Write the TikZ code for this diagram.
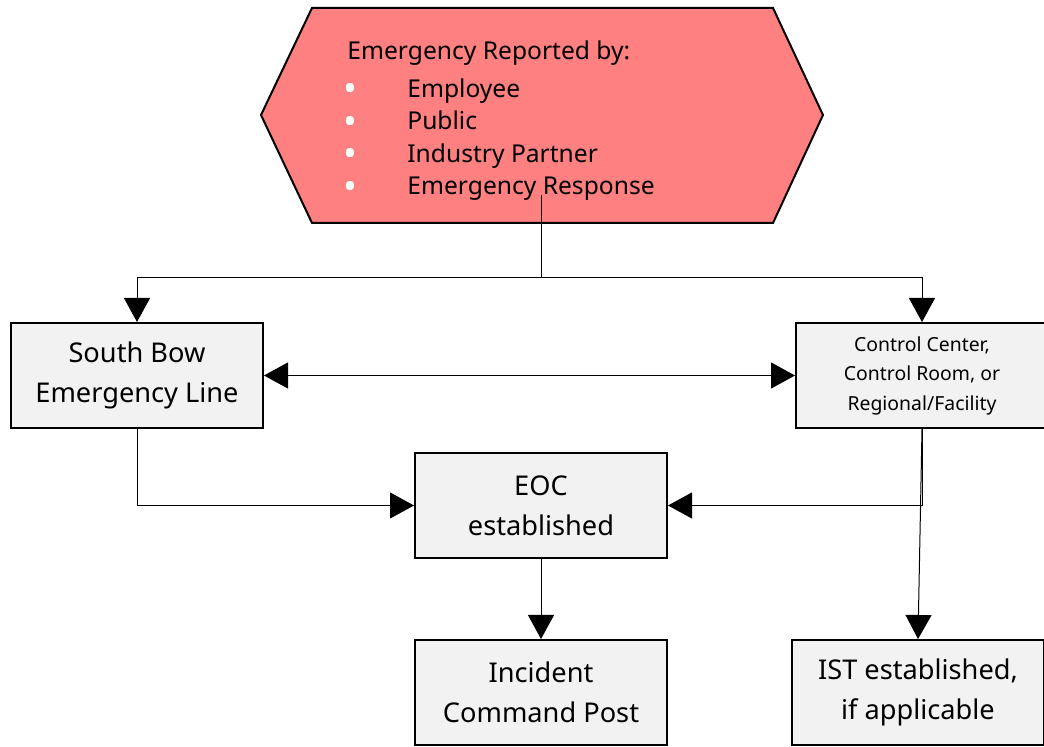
\documentclass[tikz,border=0pt]{standalone}
\usepackage{fontspec}
\setmainfont{Noto Sans}
\usetikzlibrary{arrows.meta}
\definecolor{reportred}{RGB}{255,128,128}
\definecolor{boxgrey}{RGB}{242,242,242}
\newcommand{\reportitem}{\makebox[30pt][l]{\hspace{-2pt}\smash{\raisebox{-2.3pt}{\textcolor{white}{\scalebox{1.5}{\textbullet}}}}}}

\begin{document}
\begin{tikzpicture}[x=0.5pt,y=-0.5pt]

%
% Styles
%
\tikzstyle{stepbox} = [rectangle,draw=black,fill=boxgrey,line width=1pt,
  minimum width=126pt,minimum height=52.5pt,align=center,inner sep=0pt]
\tikzstyle{link} = [line width=0.5pt,-{Triangle[length=12pt,width=13pt]}]
\tikzstyle{bigtext} = [font=\fontsize{13.6}{20}\selectfont]

\useasboundingbox (0,0) rectangle (1044,747);

% reporting hexagon
\draw[fill=reportred,line width=1pt] (261,115) -- (312,8) -- (773,8)
  -- (823,115) -- (773,223) -- (312,223) -- cycle;
\node[anchor=north west,align=left,inner sep=0pt,
  font=\fontsize{12.3}{16.3}\selectfont] (report) at (347,40)
  {Emergency Reported by:\\[2.7pt]
   \reportitem Employee\\
   \reportitem Public\\
   \reportitem Industry Partner\\
   \reportitem Emergency Response};
\coordinate (tap) at (541,195);
\coordinate (split) at (541,278);

\node[stepbox,bigtext] (line) at (137,375.5) {South Bow\\Emergency Line};
\node[stepbox,font=\fontsize{9.7}{14.75}\selectfont] (center) at (922,375.5)
  {Control Center,\\Control Room, or\\Regional/Facility};
\node[stepbox,bigtext] (eoc) at (541,505.5) {EOC\\established};
\node[stepbox,bigtext] (icp) at (541,692.5) {Incident\\Command Post};
\node[stepbox,bigtext] (ist) at (918,692.5) {IST established,\\if applicable};

\draw[line width=0.5pt] (tap) -- (split);
\draw[link] (split) -| (line.north);
\draw[link] (split) -| (center.north);
\draw[link,{Triangle[length=12pt,width=13pt]}-{Triangle[length=12pt,width=13pt]}]
  (line) -- (center);
\draw[link] (line.south) |- (eoc.west);
\draw[link] (center.south) |- (eoc.east);
\draw[link] (center.south) -- (ist.north);
\draw[link] (eoc) -- (icp);

\end{tikzpicture}
\end{document}
